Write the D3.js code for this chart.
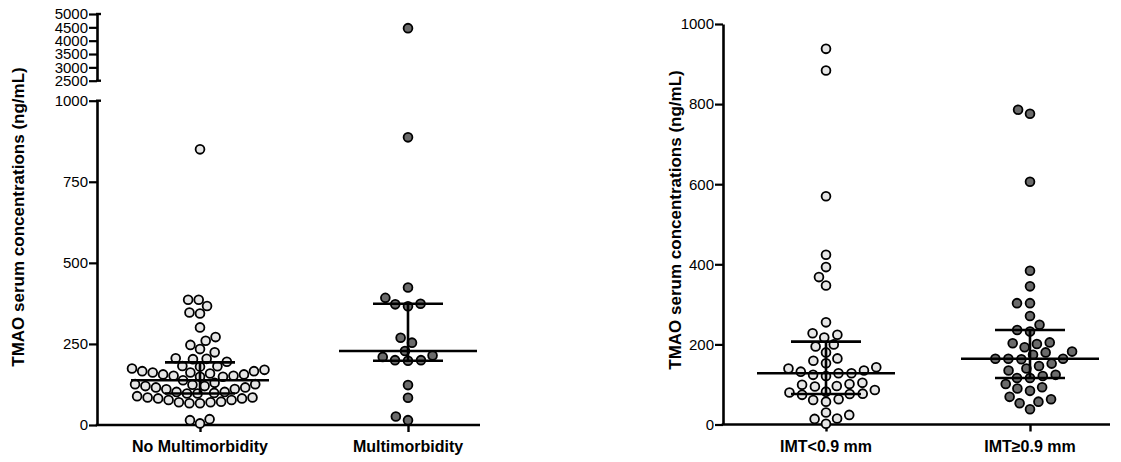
<!DOCTYPE html>
<html>
<head>
<meta charset="utf-8">
<script src="https://cdn.jsdelivr.net/npm/d3@7"></script>
<style>
  body { margin: 0; background: #fff; }
  text { font-family: Arial, "Liberation Sans", sans-serif; }
</style>
</head>
<body>
<svg id="chart" width="1121" height="462"></svg>
<script>
// ---- data (ng/mL) ----
const groupsLeft = ["No Multimorbidity", "Multimorbidity"];
const noMultimorbidity = [
  5, 15, 18,
  67, 67, 70, 70, 72, 77, 77, 82, 82, 85, 85, 89, 97, 97,
  99, 102, 102, 110, 111, 116, 116, 120, 120, 124, 126, 126, 130, 138,
  149, 149, 152, 152, 156, 156, 159, 162, 162, 166, 166, 170, 174, 180,
  181, 182, 195, 203, 204, 206,
  224, 234, 247, 260, 271, 301, 344, 347, 367, 386, 386, 850
];
const multimorbidity = [
  15, 26, 84, 123, 198, 200, 200, 210, 214, 228, 254, 269,
  366, 372, 374, 392, 424, 887, 4470
];
const leftMedian = [138, 228];
const leftQ1 = [97, 198];
const leftQ3 = [193, 374];
const leftTicksLow = [0, 250, 500, 750, 1000];
const leftTicksHigh = [2500, 3000, 3500, 4000, 4500, 5000];

const groupsRight = ["IMT<0.9 mm", "IMT\u22650.9 mm"];
const imtLow = [
  2, 14, 15, 24, 30,
  57, 61, 63,
  74, 76, 77, 80, 82, 86, 95, 96, 99, 101, 104,
  121, 124, 128, 128, 132, 135, 140, 143, 153,
  159, 165, 180, 195, 200, 217, 224, 228, 255,
  347, 368, 393, 424, 570, 884, 938
];
const imtHigh = [
  38, 53, 57, 63, 69,
  84, 90, 93, 101,
  116, 116, 121, 124, 135, 140, 146, 152,
  163, 164, 164, 164, 174, 180, 182, 193,
  201, 203, 205, 232, 236, 249, 271, 303, 303, 345, 384,
  606, 776, 786
];
const rightMedian = [128, 164];
const rightQ1 = [76, 116];
const rightQ3 = [207, 236];
const rightTicks = [0, 200, 400, 600, 800, 1000];

const fillOpen = "#e6e6e6", fillDark = "#6b6b6b";

const svg = d3.select("#chart");

// Prism-like swarm: ascending order, each point slides sideways to the nearest free spot
function swarm(values, y, cx, maxHalf) {
  const sx = 13, sy = 10;
  const pts = values.slice().sort((a, b) => a - b).map(v => ({ v, y: y(v), x: 0 }));
  const placed = [];
  pts.forEach(p => {
    const blocks = [];
    placed.forEach(q => {
      const dy = Math.abs(q.y - p.y);
      if (dy < sy) {
        const w = sx * Math.sqrt(1 - (dy / sy) ** 2);
        blocks.push([q.x - w, q.x + w]);
      }
    });
    const cands = [0];
    blocks.forEach(b => cands.push(b[0], b[1]));
    cands.sort((a, b) => Math.abs(a) - Math.abs(b) || a - b);
    p.x = cands.find(c => blocks.every(b => c <= b[0] + 1e-6 || c >= b[1] - 1e-6));
    placed.push(p);
  });
  const m = d3.max(pts, p => Math.abs(p.x));
  const k = m > maxHalf ? maxHalf / m : 1;
  pts.forEach(p => { p.x = cx + p.x * k; });
  return pts;
}

function drawDots(g, pts, fill) {
  g.append("g").selectAll("circle")
    .data(pts)
    .join("circle")
    .attr("cx", d => d.x)
    .attr("cy", d => d.y)
    .attr("r", 4.4)
    .attr("fill", fill)
    .attr("stroke", "#000")
    .attr("stroke-width", 1.8);
}

function drawBars(g, cx, y, med, q1, q3) {
  const bars = g.append("g").attr("stroke", "#000").attr("stroke-width", 2.6);
  bars.append("line").attr("x1", cx - 69).attr("x2", cx + 69).attr("y1", y(med)).attr("y2", y(med));
  bars.append("line").attr("x1", cx - 35).attr("x2", cx + 35).attr("y1", y(q1)).attr("y2", y(q1));
  bars.append("line").attr("x1", cx - 35).attr("x2", cx + 35).attr("y1", y(q3)).attr("y2", y(q3));
  bars.append("line").attr("x1", cx).attr("x2", cx).attr("y1", y(q1)).attr("y2", y(q3));
}

function styleAxis(sel) {
  sel.selectAll(".domain").attr("stroke-width", 2.6);
  sel.selectAll(".tick line").attr("stroke-width", 2.2);
  sel.selectAll(".tick text").attr("font-size", 15).attr("fill", "#000")
    .attr("x", -9)
    .attr("font-family", "Arial, 'Liberation Sans', sans-serif");
}

function xAxis(g, x, y0, x0, x1, labels) {
  g.append("line").attr("x1", x0).attr("x2", x1).attr("y1", y0).attr("y2", y0)
    .attr("stroke", "#000").attr("stroke-width", 2.6);
  const ax = g.append("g").attr("transform", `translate(0,${y0})`)
    .call(d3.axisBottom(x).tickSize(7).tickSizeOuter(0).tickFormat(""));
  ax.select(".domain").remove();
  ax.selectAll(".tick line").attr("stroke-width", 2.4);
  g.selectAll(null).data(labels).join("text")
    .attr("x", d => x(d))
    .attr("y", y0 + 27)
    .attr("text-anchor", "middle")
    .attr("font-size", 16)
    .attr("font-weight", "bold")
    .text(d => d);
}

function yTitle(g, x, y) {
  g.append("text")
    .attr("transform", `translate(${x},${y}) rotate(-90)`)
    .attr("text-anchor", "middle")
    .attr("font-size", 17)
    .attr("font-weight", "bold")
    .text("TMAO serum concentrations (ng/mL)");
}

const fmt = d3.format("d");

// ---- left panel: broken axis ----
const left = svg.append("g");
const axL = 97, baseL = 425;
const xL = d3.scalePoint().domain(groupsLeft).range([200, 408]);
const yLow = d3.scaleLinear().domain([0, 1000]).range([baseL, 100.7]);
const yHigh = d3.scaleLinear().domain([2500, 5000]).range([80.7, 14]);
const yL = d3.scaleLinear().domain([0, 1000, 2500, 5000]).range([baseL, 100.7, 80.7, 14]);

const lowAx = left.append("g").attr("transform", `translate(${axL},0)`)
  .call(d3.axisLeft(yLow).tickValues(leftTicksLow).tickFormat(fmt).tickSize(8).tickSizeOuter(0));
const highAx = left.append("g").attr("transform", `translate(${axL},0)`)
  .call(d3.axisLeft(yHigh).tickValues(leftTicksHigh).tickFormat(fmt).tickSize(8).tickSizeOuter(0));
styleAxis(lowAx);
styleAxis(highAx);
// caps at the break
[yHigh(5000), yHigh(2500), yLow(1000)].forEach(yy => {
  left.append("line").attr("x1", axL - 1).attr("x2", axL + 4).attr("y1", yy).attr("y2", yy)
    .attr("stroke", "#000").attr("stroke-width", 2.4);
});

xAxis(left, xL, baseL, axL - 1.3, 480, groupsLeft);
yTitle(left, 24, 217);

drawDots(left, swarm(noMultimorbidity, yL, xL(groupsLeft[0]), 68), fillOpen);
drawDots(left, swarm(multimorbidity, yL, xL(groupsLeft[1]), 68), fillDark);
groupsLeft.forEach((gname, i) => drawBars(left, xL(gname), yL, leftMedian[i], leftQ1[i], leftQ3[i]));

// ---- right panel ----
const right = svg.append("g");
const axR = 723, baseR = 424.5;
const xR = d3.scalePoint().domain(groupsRight).range([826, 1030]);
const yR = d3.scaleLinear().domain([0, 1000]).range([baseR, 24]);

const rAx = right.append("g").attr("transform", `translate(${axR},0)`)
  .call(d3.axisLeft(yR).tickValues(rightTicks).tickFormat(fmt).tickSize(8).tickSizeOuter(0));
styleAxis(rAx);

xAxis(right, xR, baseR, axR - 1.3, 1110, groupsRight);
yTitle(right, 681, 220);

drawDots(right, swarm(imtLow, yR, xR(groupsRight[0]), 68), fillOpen);
drawDots(right, swarm(imtHigh, yR, xR(groupsRight[1]), 68), fillDark);
groupsRight.forEach((gname, i) => drawBars(right, xR(gname), yR, rightMedian[i], rightQ1[i], rightQ3[i]));
</script>
</body>
</html>
